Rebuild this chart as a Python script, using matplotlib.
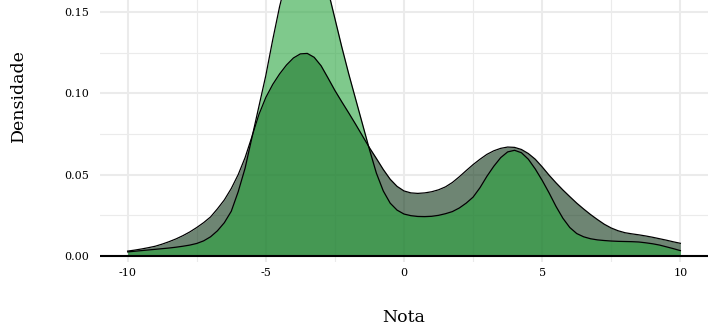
"""Density plot of grades (Nota) for two groups"""

import matplotlib.pyplot as plt
from matplotlib.ticker import MultipleLocator

# wider distribution (grey-green), read every 0.25
nota_a = [-10, -9.75, -9.5, -9.25, -9, -8.75, -8.5, -8.25, -8, -7.75, -7.5, -7.25,
          -7, -6.75, -6.5, -6.25, -6, -5.75, -5.5, -5.25, -5, -4.75, -4.5, -4.25,
          -4, -3.75, -3.5, -3.25, -3, -2.75, -2.5, -2.25, -2, -1.75, -1.5, -1.25,
          -1, -0.75, -0.5, -0.25, 0, 0.25, 0.5, 0.75, 1, 1.25, 1.5, 1.75, 2, 2.25,
          2.5, 2.75, 3, 3.25, 3.5, 3.75, 4, 4.25, 4.5, 4.75, 5, 5.25, 5.5, 5.75,
          6, 6.25, 6.5, 6.75, 7, 7.25, 7.5, 7.75, 8, 8.25, 8.5, 8.75, 9, 9.25,
          9.5, 9.75, 10]
dens_a = [0.0030, 0.0036, 0.0043, 0.0051, 0.0060, 0.0073, 0.0088, 0.0105, 0.0125,
          0.0148, 0.0175, 0.0205, 0.0240, 0.0290, 0.0345, 0.0415, 0.0500, 0.0605,
          0.0735, 0.0870, 0.0975, 0.1055, 0.1120, 0.1175, 0.1218, 0.1243, 0.1246,
          0.1222, 0.1170, 0.1095, 0.1018, 0.0948, 0.0880, 0.0810, 0.0738, 0.0666,
          0.0600, 0.0532, 0.0472, 0.0428, 0.0400, 0.0388, 0.0385, 0.0388, 0.0395,
          0.0407, 0.0425, 0.0452, 0.0487, 0.0525, 0.0562, 0.0595, 0.0625, 0.0647,
          0.0662, 0.0670, 0.0668, 0.0655, 0.0630, 0.0595, 0.0548, 0.0497, 0.0450,
          0.0406, 0.0365, 0.0325, 0.0289, 0.0255, 0.0224, 0.0195, 0.0172, 0.0155,
          0.0143, 0.0136, 0.0130, 0.0123, 0.0115, 0.0106, 0.0097, 0.0087, 0.0078]

# narrower distribution (green), read every 0.25
nota_b = nota_a
dens_b = [0.0025, 0.0029, 0.0033, 0.0037, 0.0041, 0.0045, 0.0049, 0.0054, 0.0060,
          0.0067, 0.0077, 0.0093, 0.0118, 0.0155, 0.0205, 0.0275, 0.0395, 0.0540,
          0.0730, 0.0920, 0.1110, 0.1330, 0.1535, 0.1705, 0.1825, 0.1895, 0.1915,
          0.1880, 0.1785, 0.1635, 0.1460, 0.1285, 0.1120, 0.0965, 0.0810, 0.0655,
          0.0510, 0.0400, 0.0325, 0.0282, 0.0258, 0.0248, 0.0243, 0.0242, 0.0244,
          0.0250, 0.0260, 0.0273, 0.0295, 0.0325, 0.0362, 0.0420, 0.0490, 0.0552,
          0.0605, 0.0640, 0.0650, 0.0635, 0.0595, 0.0535, 0.0465, 0.0388, 0.0305,
          0.0232, 0.0175, 0.0138, 0.0118, 0.0106, 0.0099, 0.0095, 0.0092, 0.0090,
          0.0089, 0.0088, 0.0086, 0.0081, 0.0075, 0.0067, 0.0056, 0.0045, 0.0033]

y_ticks = [0.00, 0.05, 0.10, 0.15]
x_ticks = [-10, -5, 0, 5, 10]

plt.rcParams['font.family'] = ['DejaVu Serif']

fig = plt.figure(figsize=(7.2, 3.33), dpi=100)
# panel runs above the top of the picture (the image is cropped there)
ax = fig.add_axes([100 / 720, 71 / 333, 608 / 720, 332 / 333])

ax.fill_between(nota_a, dens_a, color='#0d3416', alpha=0.6, lw=0)
ax.plot(nota_a, dens_a, color='black', lw=0.9)
ax.fill_between(nota_b, dens_b, color='#2aa53f', alpha=0.6, lw=0)
ax.plot(nota_b, dens_b, color='black', lw=0.9)
ax.axhline(0, color='black', lw=1.5)

ax.set_xlim(-11, 11)
ax.set_ylim(-0.0037, 0.2005)
ax.set_xticks(x_ticks)
ax.set_xticklabels([str(v) for v in x_ticks])
ax.xaxis.set_minor_locator(MultipleLocator(2.5))
ax.set_yticks(y_ticks)
ax.set_yticklabels([f"{v:.2f}" for v in y_ticks])
ax.set_yticks([0.025, 0.075, 0.125, 0.175], minor=True)

ax.grid(which='major', color='#ebebeb', lw=1.5)
ax.grid(which='minor', color='#ebebeb', lw=0.8)
ax.set_axisbelow(True)
for s in ax.spines.values():
    s.set_visible(False)
ax.tick_params(which='both', length=0, labelsize=8)
ax.tick_params(axis='y', pad=8)
ax.tick_params(axis='x', pad=4.5)

ax.set_xlabel("Nota", fontsize=12.5, labelpad=22)
ax.set_ylabel("Densidade", fontsize=12.5, labelpad=27)

fig.savefig("out.png", dpi=100)
